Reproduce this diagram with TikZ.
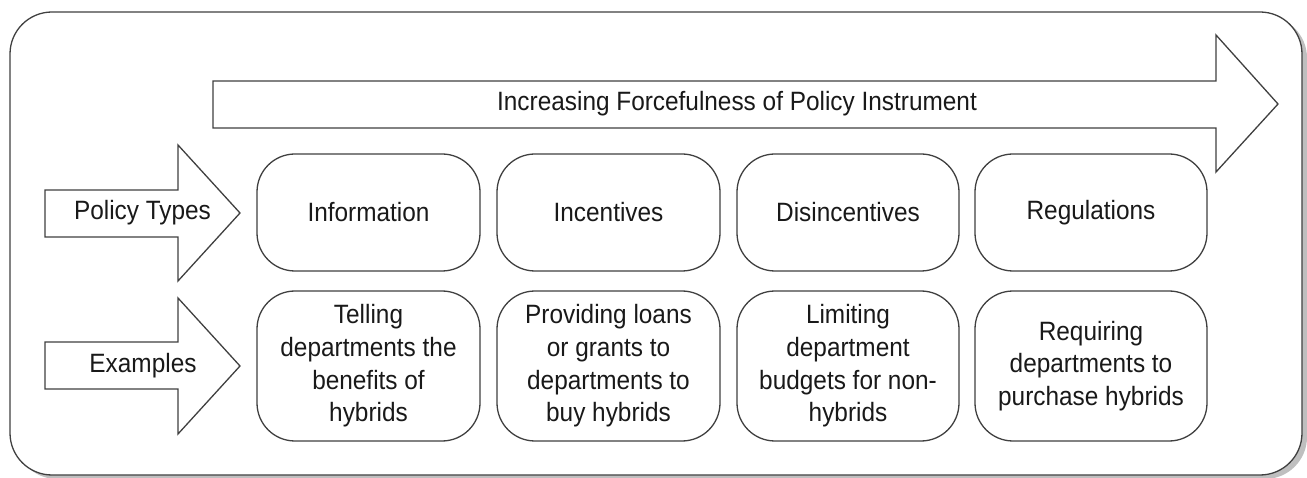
\documentclass[tikz,border=0pt]{standalone}
\usepackage{fontspec}
\setmainfont{Liberation Sans}[FakeStretch=0.92]
\begin{document}
\begin{tikzpicture}[x=1pt,y=-1pt,
  outline/.style={draw=black!75,line width=1.3pt,line join=miter},
  pbox/.style={outline,rounded corners=38pt,minimum height=117pt,align=center,inner sep=2pt},
  ebox/.style={outline,rounded corners=38pt,minimum height=150pt,align=center,inner sep=2pt},
  lbl/.style={font=\fontsize{26.5}{32.7}\selectfont,text=black!90,align=center}]
\useasboundingbox (0,0) rectangle (1307,478);
% outer frame with shadow
\fill[black!25,rounded corners=42pt] (15,16) rectangle (1307,479);
\draw[outline,fill=white,rounded corners=42pt] (10,12) rectangle (1302,475);
% big arrow
\draw[outline,fill=white] (213,81) -- (1216,81) -- (1216,35) -- (1278,104) -- (1216,172) -- (1216,128) -- (213,128) -- cycle;
\node[lbl] (force) at (737,104) {Increasing Forcefulness of Policy Instrument};
% left arrows
\draw[outline,fill=white] (45,190) -- (178,190) -- (178,145) -- (240,213) -- (178,281) -- (178,237) -- (45,237) -- cycle;
\node[lbl] (ptypes) at (142.5,213) {Policy Types};
\draw[outline,fill=white] (45,342) -- (178,342) -- (178,298) -- (240,366) -- (178,434) -- (178,389) -- (45,389) -- cycle;
\node[lbl] (examples) at (143,366) {Examples};
% row 1
\node[pbox,lbl,minimum width=223pt] (info) at (368.5,212.5) {Information};
\node[pbox,lbl,minimum width=223pt] (incent) at (608.5,212.5) {Incentives};
\node[pbox,lbl,minimum width=222pt] (disinc) at (848,212.5) {Disincentives};
\node[pbox,lbl,minimum width=232pt] (regs) at (1091,212.5) {Regulations};
% row 2
\node[ebox,lbl,minimum width=223pt] (ex1) at (368.5,366) {Telling\\departments the\\benefits of\\hybrids};
\node[ebox,lbl,minimum width=223pt] (ex2) at (608.5,366) {Providing loans\\or grants to\\departments to\\buy hybrids};
\node[ebox,lbl,minimum width=222pt] (ex3) at (848,366) {Limiting\\department\\budgets for non-\\hybrids};
\node[ebox,lbl,minimum width=232pt] (ex4) at (1091,366) {Requiring\\departments to\\purchase hybrids};
\end{tikzpicture}
\end{document}
